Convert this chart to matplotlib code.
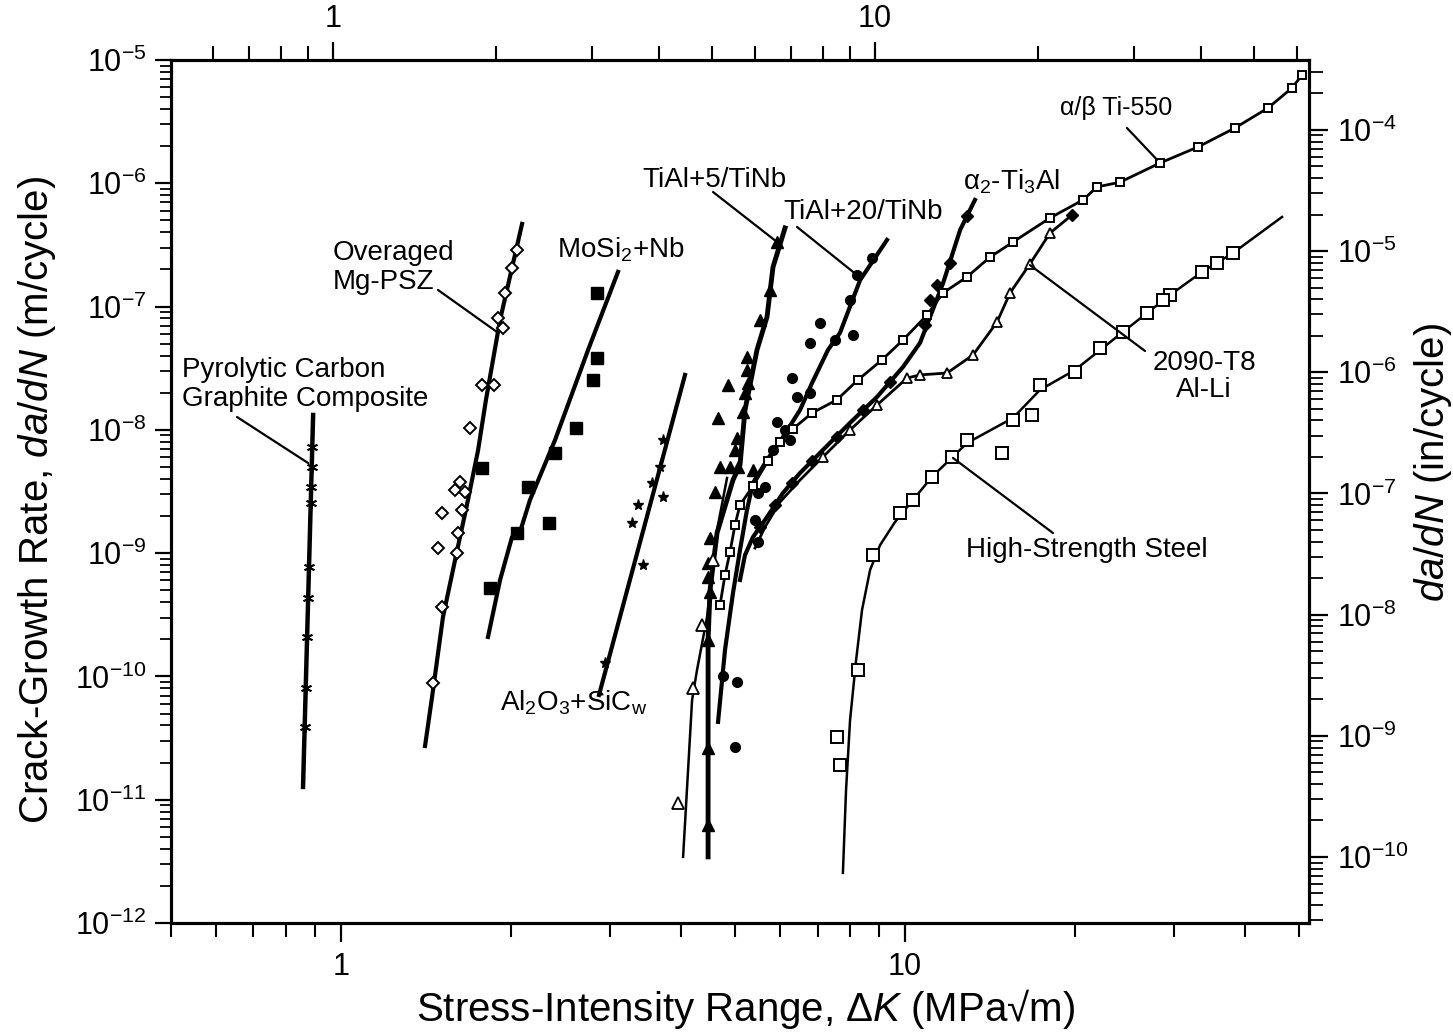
import matplotlib.pyplot as plt
from matplotlib.ticker import LogLocator, FixedLocator, FixedFormatter, NullFormatter

plt.rcParams['font.family'] = ['Liberation Sans', 'DejaVu Sans']
plt.rcParams['mathtext.fontset'] = 'custom'
plt.rcParams['mathtext.rm'] = 'Liberation Sans'
plt.rcParams['mathtext.it'] = 'Liberation Sans:italic'

# ---- data: dK (MPa sqrt m), da/dN (m/cycle) ----
pyro_line_k = [0.893, 0.857]
pyro_line_r = [1.32e-8, 1.27e-11]
pyro_pts_k = [0.889, 0.888, 0.886, 0.884, 0.878, 0.875, 0.871, 0.866, 0.863]
pyro_pts_r = [7.26e-9, 5.0e-9, 3.44e-9, 2.55e-9, 7.73e-10, 4.33e-10, 2.09e-10, 8.05e-11, 3.89e-11]

psz_line_k = [2.095, 1.915, 1.808, 1.751, 1.680, 1.594, 1.517, 1.451, 1.410]
psz_line_r = [4.68e-7, 7.78e-8, 1.75e-8, 6.87e-9, 2.70e-9, 8.81e-10, 3.03e-10, 6.81e-11, 2.73e-11]
psz_pts_k = [2.053, 2.011, 1.954, 1.899, 1.938, 1.779, 1.868, 1.694, 1.626, 1.594,
             1.660, 1.511, 1.640, 1.613, 1.486, 1.607, 1.511, 1.457]
psz_pts_r = [2.88e-7, 2.06e-7, 1.29e-7, 8.07e-8, 6.70e-8, 2.31e-8, 2.31e-8, 1.04e-8, 3.78e-9, 3.25e-9,
             3.13e-9, 2.12e-9, 2.24e-9, 1.46e-9, 1.10e-9, 1.00e-9, 3.66e-10, 8.85e-11]

mosi_line_k = [3.099, 2.743, 2.397, 2.164, 2.078, 2.011, 1.915, 1.823]
mosi_line_r = [1.91e-7, 4.45e-8, 8.28e-9, 2.70e-9, 1.49e-9, 1.35e-9, 6.05e-10, 2.09e-10]
mosi_pts_k = [2.845, 2.845, 2.799, 2.611, 2.397, 2.147, 2.339, 2.053, 1.779, 1.838]
mosi_pts_r = [1.29e-7, 3.83e-8, 2.54e-8, 1.04e-8, 6.49e-9, 3.44e-9, 1.76e-9, 1.46e-9, 4.91e-9, 5.21e-10]

alo_line_k = [4.074, 2.868]
alo_line_r = [2.79e-8, 7.08e-11]
alo_pts_k = [3.724, 3.679, 3.560, 3.363, 3.282, 3.724, 3.432, 2.939]
alo_pts_r = [8.28e-9, 5.0e-9, 3.71e-9, 2.46e-9, 1.76e-9, 2.85e-9, 8.02e-10, 1.29e-10]

tial5_line_k = [6.128, 5.834, 5.693, 5.465, 5.204, 5.099, 4.955, 4.643, 4.512, 4.476, 4.476]
tial5_line_r = [4.34e-7, 2.09e-7, 8.24e-8, 4.45e-8, 1.45e-8, 5.19e-9, 3.92e-9, 1.46e-9, 5.02e-10, 1.98e-10, 3.44e-12]
tial5_pts_k = [5.932, 5.763, 5.534, 5.246, 5.246, 5.268, 5.204, 5.161, 5.037, 4.995, 4.895, 4.700,
               5.058, 5.376, 4.855, 4.662, 4.605, 4.512, 4.476, 4.476, 4.512, 4.476, 4.476, 4.476]
tial5_pts_r = [3.34e-7, 1.36e-7, 7.78e-8, 3.90e-8, 3.06e-8, 2.40e-8, 1.99e-8, 1.40e-8, 8.59e-9, 6.87e-9,
               5.0e-9, 5.0e-9, 5.0e-9, 4.73e-9, 2.31e-8, 1.25e-8, 3.13e-9, 1.33e-9, 8.32e-10, 6.41e-10,
               4.84e-10, 1.98e-10, 2.63e-11, 6.24e-12]

opentri_line_k = [4.836, 4.643, 4.457, 4.279, 4.193, 4.042]
opentri_line_r = [4.07e-9, 1.54e-9, 3.03e-10, 1.13e-10, 6.44e-11, 3.44e-12]
opentri_pts_k = [4.367, 4.210, 3.960, 4.568]
opentri_pts_r = [2.61e-10, 8.05e-11, 9.42e-12, 8.81e-10]

tial20_line_k = [9.290, 8.324, 7.667, 7.302, 6.842, 6.515, 6.077, 5.693, 5.376, 5.246, 5.099, 4.955, 4.796, 4.662]
tial20_line_r = [3.47e-7, 1.64e-7, 6.11e-8, 4.45e-8, 2.40e-8, 1.45e-8, 8.75e-9, 5.70e-9, 3.71e-9, 2.24e-9,
                 1.06e-9, 4.75e-10, 1.64e-10, 4.28e-11]
tial20_pts_k = [8.738, 8.222, 7.990, 7.070, 8.088, 7.514, 6.787, 6.305, 6.434, 6.787, 5.932, 6.128,
                6.253, 5.834, 5.646, 5.488, 5.421, 5.488, 4.757, 5.037, 4.995]
tial20_pts_r = [2.48e-7, 1.80e-7, 1.13e-7, 7.36e-8, 5.89e-8, 5.36e-8, 5.07e-8, 2.64e-8, 1.85e-8, 1.99e-8,
                1.16e-8, 9.98e-9, 8.28e-9, 6.87e-9, 3.44e-9, 3.08e-9, 1.86e-9, 1.23e-9, 1.01e-10,
                9.02e-11, 2.68e-11]

ti550_k = [50.53, 48.52, 43.99, 38.45, 33.06, 28.31, 24.04, 21.89, 20.67, 18.07, 15.54, 14.15, 12.88,
           11.68, 10.94, 9.92, 9.10, 8.25, 7.57, 6.842, 6.330, 6.005, 5.715, 5.376, 5.099, 4.995,
           4.895, 4.796, 4.700]
ti550_r = [7.55e-6, 5.93e-6, 4.08e-6, 2.81e-6, 1.97e-6, 1.46e-6, 1.02e-6, 9.33e-7, 7.32e-7, 5.23e-7,
           3.34e-7, 2.52e-7, 1.74e-7, 1.29e-7, 8.54e-8, 5.36e-8, 3.69e-8, 2.54e-8, 1.75e-8, 1.37e-8,
           1.02e-8, 7.97e-9, 5.59e-9, 3.50e-9, 2.46e-9, 1.69e-9, 1.02e-9, 6.65e-10, 3.80e-10]

a2_line_k = [13.30, 12.52, 11.68, 10.63, 9.92, 8.92, 7.990, 7.153, 6.515, 6.077, 5.693, 5.376, 5.204, 5.099]
a2_line_r = [7.32e-7, 4.18e-7, 1.55e-7, 5.07e-8, 3.24e-8, 1.85e-8, 1.14e-8, 6.87e-9, 4.47e-9, 3.08e-9,
             1.96e-9, 1.35e-9, 9.66e-10, 6.06e-10]
a2_pts_k = [12.88, 12.01, 11.39, 11.07, 10.85, 9.406, 8.425, 7.57, 6.842, 6.305, 5.883, 5.534]
a2_pts_r = [5.43e-7, 2.26e-7, 1.50e-7, 1.13e-7, 7.09e-8, 2.44e-8, 1.45e-8, 8.75e-9, 5.59e-9, 3.71e-9,
            2.46e-9, 1.63e-9]

alli_k = [19.77, 18.07, 16.65, 15.35, 14.56, 13.20, 11.87, 10.63, 10.08, 8.92, 7.99, 7.153, 6.515,
          6.005, 5.646, 5.421]
alli_r = [5.53e-7, 3.95e-7, 2.22e-7, 1.29e-7, 7.50e-8, 4.05e-8, 2.89e-8, 2.79e-8, 2.63e-8, 1.59e-8,
          9.98e-9, 6.03e-9, 3.92e-9, 2.60e-9, 1.63e-9, 1.10e-9]

steel_line_k = [46.58, 38.14, 33.61, 29.49, 24.33, 20.01, 17.35, 15.54, 12.88, 11.16, 10.33, 9.60,
                9.03, 8.67, 8.39, 8.19, 7.99, 7.86, 7.76]
steel_line_r = [5.33e-7, 2.72e-7, 1.91e-7, 1.24e-7, 6.22e-8, 3.06e-8, 2.11e-8, 1.25e-8, 7.82e-9,
                4.15e-9, 2.70e-9, 1.79e-9, 1.16e-9, 7.30e-10, 3.46e-10, 1.36e-10, 4.43e-11,
                1.20e-11, 2.55e-12]
steel_pts_k = [38.14, 35.73, 33.61, 29.49, 28.66, 26.85, 24.33, 22.16, 20.01, 17.35, 16.80, 15.54,
               14.86, 12.88, 12.11, 11.16, 10.33, 9.80, 8.77, 8.25, 7.57, 7.667]
steel_pts_r = [2.72e-7, 2.26e-7, 1.91e-7, 1.24e-7, 1.13e-7, 8.87e-8, 6.22e-8, 4.61e-8, 2.95e-8,
               2.31e-8, 1.32e-8, 1.20e-8, 6.49e-9, 8.28e-9, 6.03e-9, 4.15e-9, 2.70e-9, 2.12e-9,
               9.66e-10, 1.13e-10, 3.23e-11, 1.91e-11]

fig = plt.figure(figsize=(14.53, 10.32), dpi=100)
ax = fig.add_axes([0.1177, 0.1056, 0.7832, 0.8363])
ax.set_xscale('log')
ax.set_yscale('log')
ax.set_xlim(0.5, 52)
ax.set_ylim(1e-12, 1e-5)

k = 'black'
# lines
ax.plot(pyro_line_k, pyro_line_r, color=k, lw=3.2)
ax.plot(psz_line_k, psz_line_r, color=k, lw=3)
ax.plot(mosi_line_k, mosi_line_r, color=k, lw=3)
ax.plot(alo_line_k, alo_line_r, color=k, lw=3)
ax.plot(tial5_line_k, tial5_line_r, color=k, lw=3.5)
ax.plot(opentri_line_k, opentri_line_r, color=k, lw=1.8)
ax.plot(tial20_line_k, tial20_line_r, color=k, lw=3)
ax.plot(ti550_k, ti550_r, color=k, lw=2)
ax.plot(a2_line_k, a2_line_r, color=k, lw=3)
ax.plot(alli_k, alli_r, color=k, lw=2)
ax.plot(steel_line_k, steel_line_r, color=k, lw=1.8)

# markers
ax.plot(pyro_pts_k, pyro_pts_r, ls='none', marker=(6, 2, 0), ms=8, mec=k, mew=1.3)
ax.plot(psz_pts_k, psz_pts_r, ls='none', marker='D', ms=6, mfc='white', mec=k, mew=1.4)
ax.plot(mosi_pts_k, mosi_pts_r, ls='none', marker='s', ms=8, mfc=k, mec=k)
ax.plot(alo_pts_k, alo_pts_r, ls='none', marker='*', ms=8, mfc=k, mec=k)
ax.plot(tial5_pts_k, tial5_pts_r, ls='none', marker='^', ms=8, mfc=k, mec=k)
ax.plot(opentri_pts_k, opentri_pts_r, ls='none', marker='^', ms=8, mfc='white', mec=k, mew=1.3)
ax.plot(tial20_pts_k, tial20_pts_r, ls='none', marker='o', ms=7, mfc=k, mec=k)
ax.plot(ti550_k, ti550_r, ls='none', marker='s', ms=6, mfc='white', mec=k, mew=1.4)
ax.plot(a2_pts_k, a2_pts_r, ls='none', marker='D', ms=6, mfc=k, mec=k)
ax.plot(alli_k[1:12], alli_r[1:12], ls='none', marker='^', ms=7, mfc='white', mec=k, mew=1.3)
ax.plot(alli_k[:1], alli_r[:1], ls='none', marker='D', ms=6, mfc=k, mec=k)
ax.plot(steel_pts_k, steel_pts_r, ls='none', marker='s', ms=8, mfc='white', mec=k, mew=1.4)

# labels and leaders (text placed in axes fraction)
fs = 20
lead = dict(arrowstyle='-', lw=1.6, color=k, shrinkA=0, shrinkB=0)
ax.text(0.0097, 0.6234, 'Pyrolytic Carbon\nGraphite Composite', transform=ax.transAxes,
        fontsize=fs, ha='left', va='center', linespacing=1.15)
ax.annotate('', xy=(0.875, 5.38e-9), xytext=(0.058, 0.5863), textcoords='axes fraction', arrowprops=lead)
ax.text(0.1424, 0.760, 'Overaged\nMg-PSZ', transform=ax.transAxes, fontsize=fs, ha='left',
        va='center', linespacing=1.15)
ax.annotate('', xy=(1.891, 6.22e-8), xytext=(0.2346, 0.7335), textcoords='axes fraction', arrowprops=lead)
ax.text(0.3392, 0.7798, r'MoSi$_2$+Nb', transform=ax.transAxes, fontsize=fs, ha='left', va='center')
ax.text(0.2891, 0.2549, r'Al$_2$O$_3$+SiC$_\mathrm{w}$', transform=ax.transAxes, fontsize=fs,
        ha='left', va='center')
ax.text(0.4139, 0.861, 'TiAl+5/TiNb', transform=ax.transAxes, fontsize=fs, ha='left', va='center')
ax.annotate('', xy=(5.93, 3.34e-7), xytext=(0.4763, 0.847), textcoords='axes fraction', arrowprops=lead)
ax.text(0.5378, 0.8239, 'TiAl+20/TiNb', transform=ax.transAxes, fontsize=fs, ha='left', va='center')
ax.annotate('', xy=(8.22, 1.80e-7), xytext=(0.5501, 0.8065), textcoords='axes fraction', arrowprops=lead)
ax.text(0.696, 0.8586, r'α$_2$-Ti$_3$Al', transform=ax.transAxes, fontsize=fs, ha='left', va='center')
ax.text(0.7812, 0.9444, 'α/β Ti-550', transform=ax.transAxes, fontsize=fs - 2, ha='left', va='center')
ax.annotate('', xy=(27.97, 1.55e-6), xytext=(0.840, 0.9212), textcoords='axes fraction', arrowprops=lead)
ax.text(0.9077, 0.6327, '2090-T8\nAl-Li', transform=ax.transAxes, fontsize=fs, ha='center',
        va='center', linespacing=1.05)
ax.annotate('', xy=(16.65, 2.17e-7), xytext=(0.8559, 0.6628), textcoords='axes fraction', arrowprops=lead)
ax.text(0.9113, 0.4322, 'High-Strength Steel', transform=ax.transAxes, fontsize=fs, ha='right', va='center')
ax.annotate('', xy=(12.16, 5.92e-9), xytext=(0.775, 0.4519), textcoords='axes fraction', arrowprops=lead)

# bottom / left axes
tfs = 22
ax.xaxis.set_major_locator(FixedLocator([1, 10]))
ax.xaxis.set_major_formatter(FixedFormatter(['1', '10']))
ax.xaxis.set_minor_locator(LogLocator(base=10, subs=range(2, 10), numticks=20))
ax.xaxis.set_minor_formatter(NullFormatter())
ydec = list(range(-12, -4))
ax.yaxis.set_major_locator(FixedLocator([10.0 ** e for e in ydec]))
ax.yaxis.set_major_formatter(FixedFormatter([r'$\mathregular{10^{%d}}$' % e for e in ydec]))
ax.yaxis.set_minor_locator(LogLocator(base=10, subs=range(2, 10), numticks=20))
ax.yaxis.set_minor_formatter(NullFormatter())
ax.tick_params(axis='both', which='major', direction='out', width=1.6, labelsize=tfs, color=k)
ax.tick_params(axis='x', which='major', length=14, pad=7)
ax.tick_params(axis='x', which='minor', direction='out', length=10, width=1.5)
ax.tick_params(axis='y', which='major', length=11.5, pad=6)
ax.tick_params(axis='y', which='minor', direction='out', length=8, width=1.3)

# top axis (ksi sqrt in)
ax2 = ax.twiny()
ax2.set_xscale('log')
ax2.set_xlim(0.502, 63.2)
ax2.xaxis.set_major_locator(FixedLocator([1, 10]))
ax2.xaxis.set_major_formatter(FixedFormatter(['1', '10']))
ax2.xaxis.set_minor_locator(LogLocator(base=10, subs=range(2, 10), numticks=20))
ax2.xaxis.set_minor_formatter(NullFormatter())
ax2.tick_params(axis='x', which='major', direction='out', length=13, width=1.6, labelsize=tfs, pad=6)
ax2.tick_params(axis='x', which='minor', direction='out', length=10, width=1.5)

# right axis (in/cycle)
ax3 = ax.twinx()
ax3.set_yscale('log')
ax3.set_ylim(2.85e-11, 3.78e-4)
rdec = list(range(-10, -3))
ax3.yaxis.set_major_locator(FixedLocator([10.0 ** e for e in rdec]))
ax3.yaxis.set_major_formatter(FixedFormatter([r'$\mathregular{10^{%d}}$' % e for e in rdec]))
ax3.yaxis.set_minor_locator(LogLocator(base=10, subs=range(2, 10), numticks=20))
ax3.yaxis.set_minor_formatter(NullFormatter())
ax3.tick_params(axis='y', which='major', direction='out', length=14, width=1.6, labelsize=tfs, pad=6)
ax3.tick_params(axis='y', which='minor', direction='out', length=10, width=1.3)

for a in (ax, ax2, ax3):
    for s in a.spines.values():
        s.set_linewidth(2.2)

afs = 29
fig.text(0.0255, 0.5155, r'Crack-Growth Rate, $da/dN$ (m/cycle)', rotation=90,
         ha='center', va='center', fontsize=afs)
fig.text(0.5134, 0.0107, r'Stress-Intensity Range, Δ$K$ (MPa√m)', ha='center',
         va='baseline', fontsize=afs)
fig.text(0.9862, 0.5514, r'$da/dN$ (in/cycle)', rotation=90, ha='center', va='center', fontsize=afs)

fig.savefig('out.png', dpi=100)
